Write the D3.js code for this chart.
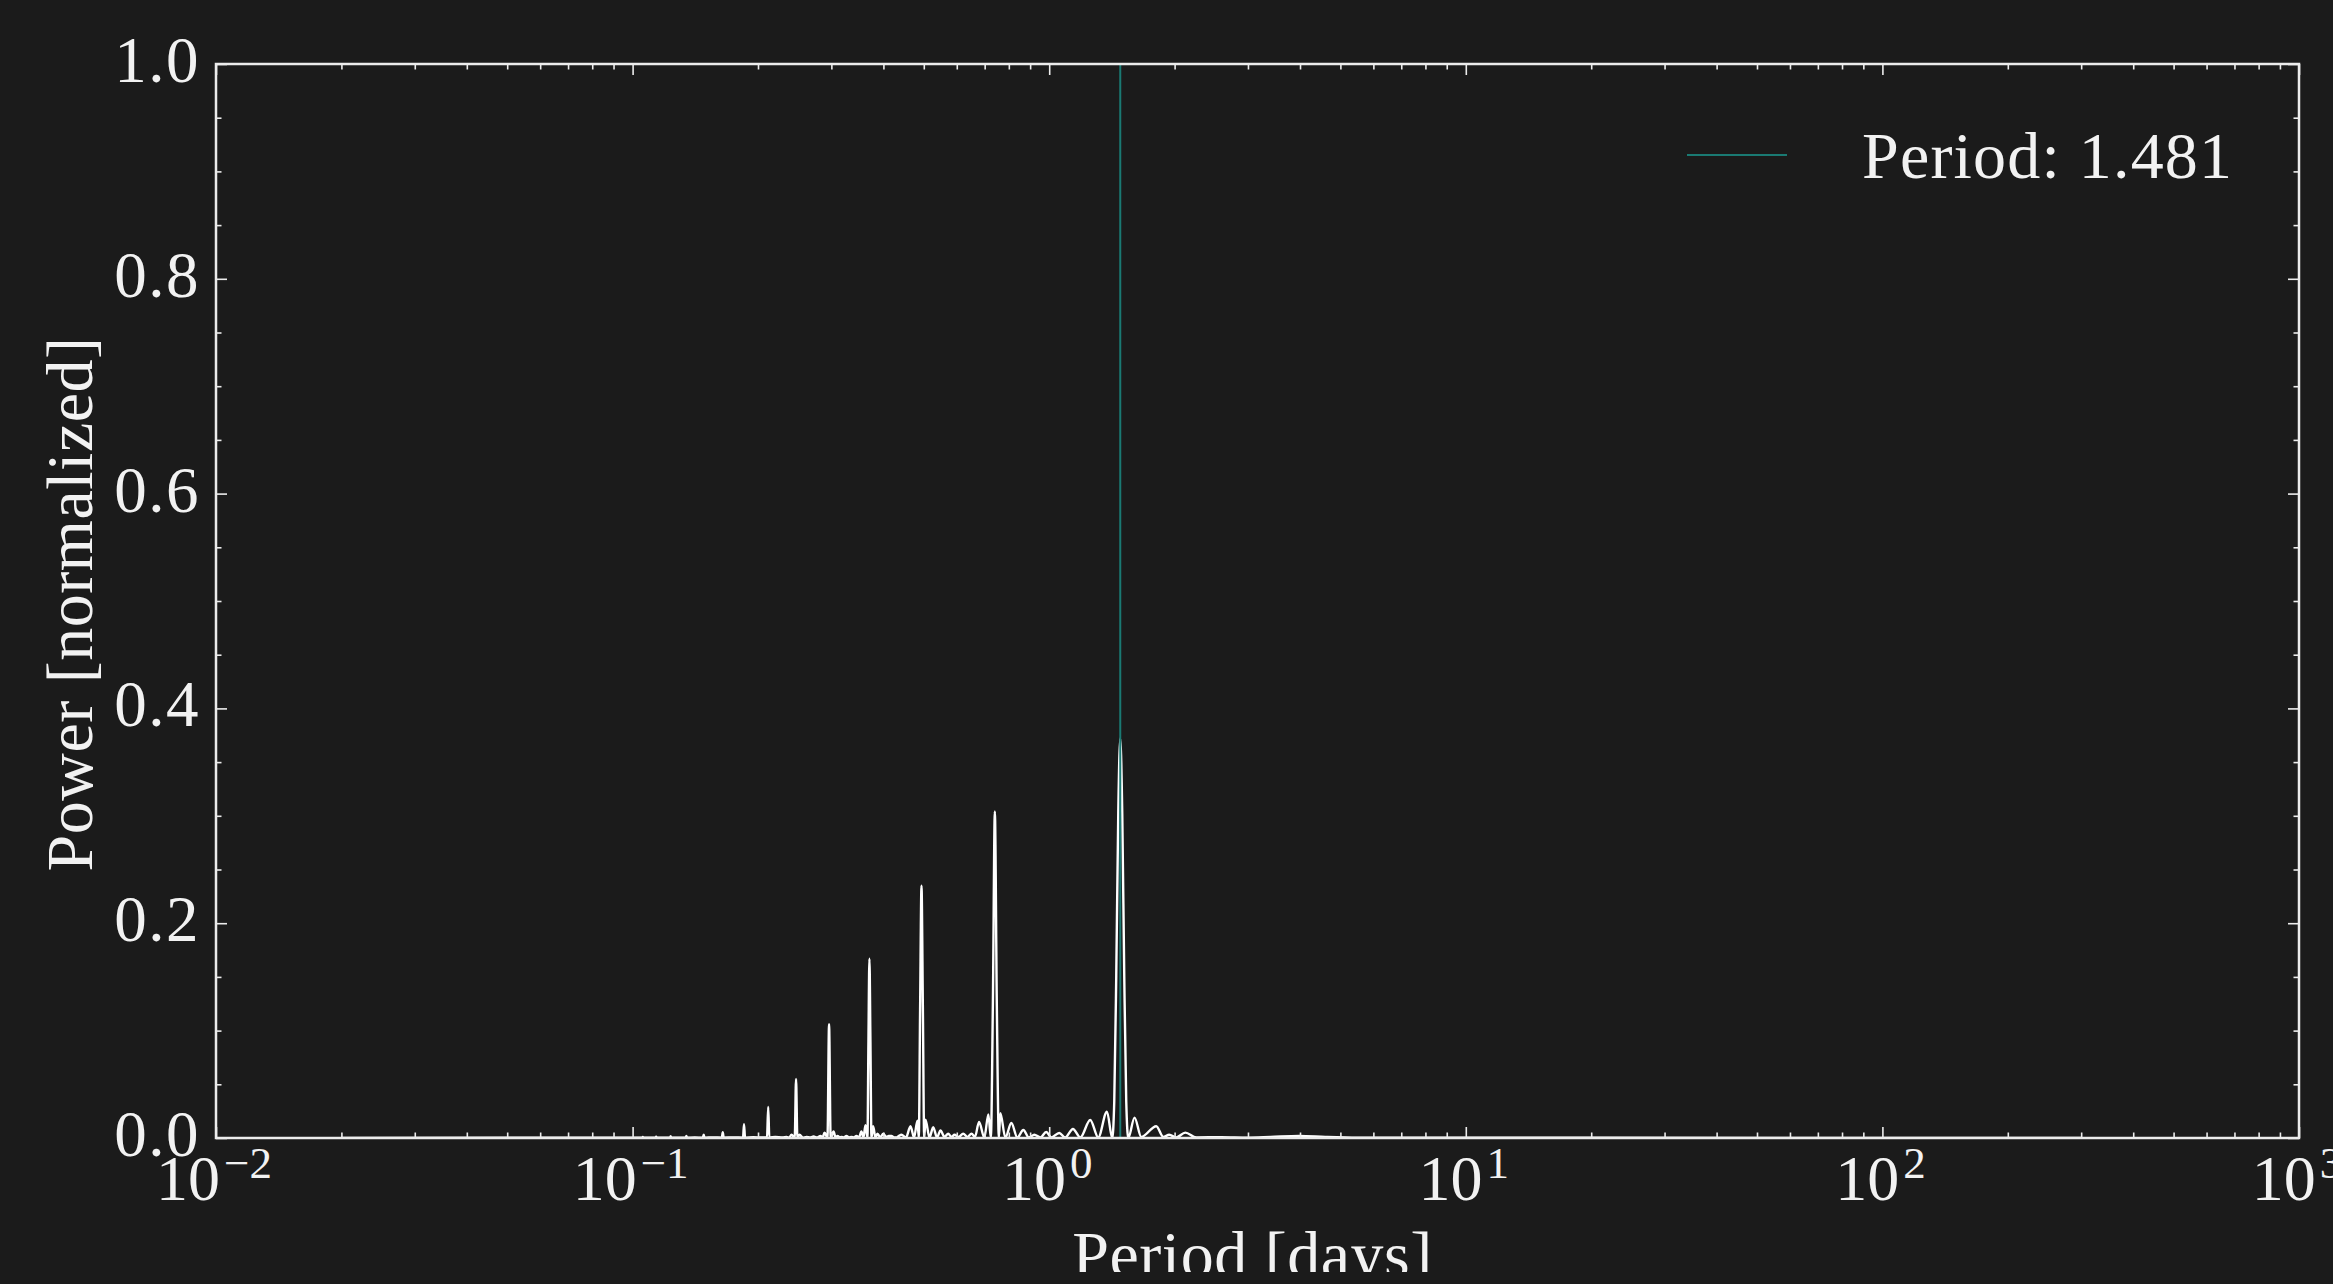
<!DOCTYPE html>
<html>
<head>
<meta charset="utf-8">
<script src="https://cdn.jsdelivr.net/npm/d3@7"></script>
<style>
  html, body { margin: 0; padding: 0; background: #1b1b1b; }
  svg { display: block; }
  text { font-family: "Liberation Serif", "DejaVu Serif", serif; fill: #f2f2f2; }
</style>
</head>
<body>
<script>
// ---------------- data ----------------
const periods = [
  0.0200, 0.0900,
  0.1055, 0.1058, 0.1061, 0.1136, 0.1139, 0.1143, 0.1230, 0.1234, 0.1238,
  0.1342, 0.1346, 0.1351, 0.1410, 0.1475, 0.1481, 0.1488, 0.1560,
  0.1638, 0.1646, 0.1654, 0.1750, 0.1841, 0.1851, 0.1862, 0.1950, 0.2030,
  0.2102, 0.2116, 0.2129, 0.2200, 0.2290,
  0.2342, 0.2375, 0.2407, 0.2450, 0.2468, 0.2486, 0.2516, 0.2565, 0.2616,
  0.2665, 0.2719, 0.2770, 0.2826, 0.2858, 0.2889, 0.2936, 0.2962, 0.2988,
  0.3037, 0.3070, 0.3104, 0.3140, 0.3172, 0.3215, 0.3261, 0.3305, 0.3352,
  0.3400, 0.3446, 0.3495, 0.3542, 0.3582, 0.3622, 0.3662, 0.3682, 0.37025,
  0.3723, 0.3744, 0.3779, 0.3827, 0.3870, 0.3935, 0.3994, 0.4067, 0.4120,
  0.4182, 0.4240, 0.4300, 0.4360, 0.4420, 0.4532, 0.4646, 0.4737, 0.4829,
  0.4864, 0.4899, 0.4937, 0.4975, 0.5011, 0.5047, 0.5160, 0.5267, 0.5379,
  0.5484, 0.5606, 0.5722, 0.5828, 0.5925, 0.6057, 0.6217, 0.6366, 0.6509,
  0.6635, 0.6786, 0.6988, 0.7144, 0.7243, 0.7324, 0.7405, 0.7487, 0.7571,
  0.7634, 0.7848, 0.8112, 0.8386, 0.8668, 0.8936, 0.9212, 0.9522, 0.9838,
  1.0114, 1.0571, 1.0928, 1.1403, 1.1873, 1.2546, 1.3114, 1.3760, 1.4169,
  1.4327, 1.4486, 1.4647, 1.4810, 1.4975, 1.5141, 1.5309, 1.5480, 1.6028,
  1.6633, 1.8074, 1.8783, 1.9416, 2.0182, 2.1217, 2.2542, 2.5880, 3.0000,
  3.4000, 3.9830, 4.6000, 5.5000, 20.000, 300.00
];
const powers = [
  0.0000, 0.0003,
  0.0002, 0.0010, 0.0002, 0.0002, 0.0013, 0.0002, 0.0002, 0.0016, 0.0002,
  0.0002, 0.0020, 0.0002, 0.0005, 0.0002, 0.0030, 0.0002, 0.0006,
  0.0003, 0.0053, 0.0003, 0.0006, 0.0003, 0.0128, 0.0003, 0.0008, 0.0004,
  0.0004, 0.0290, 0.0004, 0.0010, 0.0006,
  0.0010, 0.0003, 0.0030, 0.0003, 0.0550, 0.0003, 0.0030, 0.0003, 0.0010,
  0.0004, 0.0015, 0.0004, 0.0020, 0.0004, 0.0050, 0.0003, 0.1060, 0.0003,
  0.0060, 0.0004, 0.0020, 0.0005, 0.0010, 0.0005, 0.0020, 0.0005, 0.0010,
  0.0005, 0.0020, 0.0005, 0.0060, 0.0005, 0.0120, 0.0003, 0.0900, 0.1670,
  0.0900, 0.0003, 0.0110, 0.0005, 0.0040, 0.0005, 0.0040, 0.0010, 0.0020,
  0.0020, 0.0006, 0.0005, 0.0020, 0.0030, 0.0005, 0.0110, 0.0005, 0.0160,
  0.0003, 0.1200, 0.2350, 0.1200, 0.0003, 0.0170, 0.0005, 0.0100, 0.0005,
  0.0070, 0.0010, 0.0040, 0.0010, 0.0030, 0.0010, 0.0040, 0.0010, 0.0040,
  0.0010, 0.0150, 0.0005, 0.0220, 0.0003, 0.1230, 0.3040, 0.1230, 0.0003,
  0.0230, 0.0005, 0.0140, 0.0005, 0.0075, 0.0005, 0.0030, 0.0005, 0.0056,
  0.0005, 0.0047, 0.0005, 0.0084, 0.0005, 0.0168, 0.0005, 0.0246, 0.0000,
  0.0340, 0.1510, 0.3020, 0.3720, 0.3020, 0.1510, 0.0340, 0.0000, 0.0190,
  0.0010, 0.0110, 0.0010, 0.0030, 0.0005, 0.0050, 0.0005, 0.0008, 0.0003,
  0.0010, 0.0020, 0.0010, 0.0003, 0.0002, 0.0001
];
const bestPeriod = 1.481;
const legendLabel = "Period: 1.481";
const xMajorExponents = [-2, -1, 0, 1, 2, 3];
const yMajorTicks = [0.0, 0.2, 0.4, 0.6, 0.8, 1.0];
const yTickLabels = ["0.0", "0.2", "0.4", "0.6", "0.8", "1.0"];
const xLabel = "Period [days]";
const yLabel = "Power [normalized]";

// ---------------- layout ----------------
const W = 2333, H = 1284;
const mLeft = 216, mRight = 2299, mTop = 64, mBottom = 1138;
const fg = "#ececec";
const teal = "#1a7a73";

const svg = d3.select("body").append("svg")
  .attr("width", W).attr("height", H);
svg.append("rect").attr("width", W).attr("height", H).attr("fill", "#1b1b1b");

const xScale = d3.scaleLog().domain([1e-2, 1e3]).range([mLeft, mRight]);
const yScale = d3.scaleLinear().domain([0, 1]).range([mBottom, mTop]);

const defs = svg.append("defs");
defs.append("clipPath").attr("id", "plotclip")
  .append("rect").attr("x", mLeft).attr("y", mTop)
  .attr("width", mRight - mLeft).attr("height", mBottom - mTop);
defs.append("clipPath").attr("id", "figclip")
  .append("rect").attr("x", 0).attr("y", 0).attr("width", W).attr("height", 1272);

const pts = periods.map((p, i) => [p, powers[i]]);

// periodogram line
svg.append("path")
  .datum(pts)
  .attr("clip-path", "url(#plotclip)")
  .attr("fill", "none")
  .attr("stroke", "#ffffff")
  .attr("stroke-width", 2.4)
  .attr("stroke-linejoin", "round")
  .attr("d", d3.line().x(d => xScale(d[0])).y(d => yScale(d[1])).curve(d3.curveMonotoneX));

// best period vertical line
svg.append("line")
  .attr("x1", xScale(bestPeriod)).attr("x2", xScale(bestPeriod))
  .attr("y1", yScale(0)).attr("y2", yScale(1))
  .attr("stroke", teal).attr("stroke-width", 2);

// ---------------- ticks ----------------
const xMajor = xMajorExponents.map(e => Math.pow(10, e));
const xMinor = [];
for (let e = -2; e < 3; e++) for (let k = 2; k <= 9; k++) xMinor.push(k * Math.pow(10, e));
const yMinor = d3.range(0, 21).map(i => i * 0.05).filter(v => Math.abs(v * 5 - Math.round(v * 5)) > 1e-6);

function styleAxis(g) {
  g.select(".domain").remove();
  g.selectAll(".tick line").attr("stroke", fg).attr("stroke-width", 1.6);
  g.selectAll(".tick text").remove();
}
function addAxis(axisFn, scale, vals, size, transform) {
  svg.append("g").attr("transform", transform)
    .call(axisFn(scale).tickValues(vals).tickSizeInner(-size).tickSizeOuter(0).tickFormat(() => ""))
    .call(styleAxis);
}
[[xMajor, 11], [xMinor, 5.5]].forEach(([vals, s]) => {
  addAxis(d3.axisBottom, xScale, vals, s, `translate(0,${mBottom})`);
  addAxis(d3.axisTop, xScale, vals, s, `translate(0,${mTop})`);
});
[[yMajorTicks, 11], [yMinor, 5.5]].forEach(([vals, s]) => {
  addAxis(d3.axisLeft, yScale, vals, s, `translate(${mLeft},0)`);
  addAxis(d3.axisRight, yScale, vals, s, `translate(${mRight},0)`);
});

// frame
svg.append("rect")
  .attr("x", mLeft).attr("y", mTop)
  .attr("width", mRight - mLeft).attr("height", mBottom - mTop)
  .attr("fill", "none").attr("stroke", fg).attr("stroke-width", 2.5);

// ---------------- tick labels ----------------
svg.append("g").selectAll("text").data(yMajorTicks).join("text")
  .attr("x", mLeft - 16)
  .attr("y", d => yScale(d) + 18)
  .attr("text-anchor", "end")
  .attr("font-size", 65)
  .attr("letter-spacing", 1.5)
  .text((d, i) => yTickLabels[i]);

const xl = svg.append("g").selectAll("text").data(xMajorExponents).join("text")
  .attr("x", e => xScale(Math.pow(10, e)) - 2)
  .attr("y", 1200)
  .attr("text-anchor", "middle")
  .attr("font-size", 64);
xl.append("tspan").text("10");
xl.append("tspan").attr("dx", 4).attr("dy", -22).attr("font-size", 45)
  .text(e => (e < 0 ? "\u2212" + Math.abs(e) : String(e)));

// ---------------- axis labels ----------------
svg.append("text")
  .attr("clip-path", "url(#figclip)")
  .attr("x", (mLeft + mRight) / 2 - 5)
  .attr("y", 1277)
  .attr("text-anchor", "middle")
  .attr("font-size", 66)
  .attr("letter-spacing", 0.5)
  .text(xLabel);

svg.append("text")
  .attr("transform", `translate(92,${(mTop + mBottom) / 2 + 3}) rotate(-90)`)
  .attr("text-anchor", "middle")
  .attr("font-size", 66)
  .attr("letter-spacing", 0.5)
  .text(yLabel);

// ---------------- legend ----------------
svg.append("line")
  .attr("x1", 1687).attr("x2", 1787).attr("y1", 155).attr("y2", 155)
  .attr("stroke", teal).attr("stroke-width", 1.8);
svg.append("text")
  .attr("x", 1862).attr("y", 178)
  .attr("font-size", 66)
  .attr("letter-spacing", 1.2)
  .text(legendLabel);
</script>
</body>
</html>
